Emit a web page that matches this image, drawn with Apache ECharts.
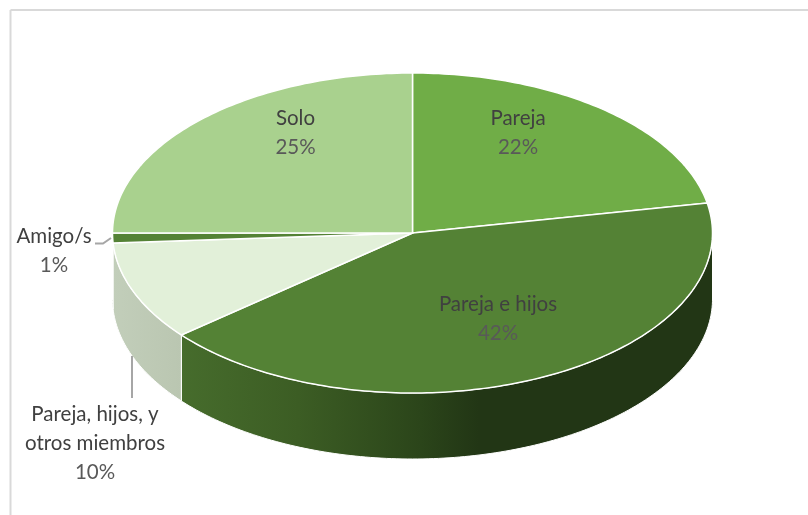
<!DOCTYPE html>
<html>
<head>
<meta charset="utf-8">
<style>html,body{margin:0;padding:0;background:#fff}#chart{width:808px;height:515px}</style>
<script src="https://cdn.jsdelivr.net/npm/echarts@6/dist/echarts.min.js"></script>
</head>
<body>
<div id="chart"></div>
<script>
// Household composition, share per category (%)
const categories = ['Pareja', 'Pareja e hijos', 'Pareja, hijos, y\notros miembros', 'Amigo/s', 'Solo'];
const shares = [22, 42, 10, 1, 25];
const topColors = ['#70AD47', '#548235', '#E2F0D9', '#548235', '#A9D18E'];

// Side wall shading, left to right, for slices that reach the front of the disc
const wallShades = [
  null,
  [[0, '#466C2C'], [0.22, '#3C5D24'], [0.45, '#2B451A'], [0.56, '#223615'], [1, '#223615']],
  [[0, '#C2CEBA'], [1, '#BAC6B1']],
  [[0, '#3F6428'], [1, '#3F6428']],
  null
];

// Text anchors and leader lines, in page pixels
const labelAnchors = [[518, 133], [498, 319], [95, 443.5], [54, 250.5], [295.5, 133]];
const leaders = [
  null, null,
  [[132, 356], [132, 398]],
  [[95, 243.5], [103, 243.5], [111, 238]],
  null
];

const DEPTH = 66 / 160;      // wall height in units of the vertical radius
const STEP = 1;              // arc sampling, degrees
const total = shares.reduce((a, b) => a + b, 0);

function sliceAngles(i) {
  const before = shares.slice(0, i).reduce((a, b) => a + b, 0);
  return [before / total * 360, (before + shares[i]) / total * 360];
}
function rim(api, deg, drop) {
  const t = deg * Math.PI / 180;
  return api.coord([Math.sin(t), Math.cos(t) - drop]);
}
function arc(api, from, to, drop) {
  const pts = [];
  for (let d = from; d < to; d += STEP) pts.push(rim(api, d, drop));
  pts.push(rim(api, to, drop));
  return pts;
}

function renderWall(params, api) {
  const i = params.dataIndex;
  const [a0, a1] = sliceAngles(i);
  const from = Math.max(a0, 90), to = Math.min(a1, 270);
  if (from >= to || !wallShades[i]) return null;
  const points = arc(api, from, to, 0).concat(arc(api, from, to, DEPTH).reverse());
  return {
    type: 'polygon',
    shape: { points },
    style: {
      fill: {
        type: 'linear', x: 0, y: 0, x2: 1, y2: 0,
        colorStops: wallShades[i].map(([offset, color]) => ({ offset, color }))
      },
      stroke: '#fff', lineWidth: 1
    }
  };
}

function renderTop(params, api) {
  const i = params.dataIndex;
  const [a0, a1] = sliceAngles(i);
  const points = [api.coord([0, 0])].concat(arc(api, a0, a1, 0));
  return {
    type: 'polygon',
    shape: { points },
    style: { fill: topColors[i], stroke: '#fff', lineWidth: 1.5 }
  };
}

function renderLabel(params, api) {
  const i = params.dataIndex;
  const [x, y] = labelAnchors[i];
  const names = categories[i].split('\n').map(s => '{n|' + s + '}').join('\n');
  const children = [{
    type: 'text',
    style: {
      x, y, align: 'center', verticalAlign: 'middle',
      text: names + '\n{v|' + api.value(0) + '%}',
      rich: {
        n: { font: '20.5px Lato', fill: '#404040', lineHeight: 29 },
        v: { font: '20.5px Lato', fill: '#595959', lineHeight: 29 }
      }
    }
  }];
  if (leaders[i]) {
    children.push({
      type: 'polyline',
      shape: { points: leaders[i] },
      style: { stroke: '#A6A6A6', lineWidth: 2, fill: null }
    });
  }
  return { type: 'group', children };
}

const rows = shares.map(v => [v]);
const base = { type: 'custom', coordinateSystem: 'cartesian2d', data: rows, silent: true, clip: false };

const chart = echarts.init(document.getElementById('chart'), null, { renderer: 'canvas' });
chart.setOption({
  animation: false,
  backgroundColor: '#fff',
  grid: { left: 112.5, width: 600, top: 73, height: 386 },
  xAxis: { type: 'value', min: -1, max: 1, show: false },
  yAxis: { type: 'value', min: -1 - DEPTH, max: 1, show: false },
  graphic: [
    { type: 'line', shape: { x1: 10.5, y1: 10, x2: 808, y2: 10 }, style: { stroke: '#D9D9D9', lineWidth: 2 } },
    { type: 'line', shape: { x1: 10.5, y1: 10, x2: 10.5, y2: 515 }, style: { stroke: '#D9D9D9', lineWidth: 2 } }
  ],
  series: [
    Object.assign({}, base, { name: 'walls', z: 2, renderItem: renderWall }),
    Object.assign({}, base, { name: 'tops', z: 3, renderItem: renderTop }),
    Object.assign({}, base, { name: 'labels', z: 4, renderItem: renderLabel })
  ]
});
</script>
</body>
</html>
